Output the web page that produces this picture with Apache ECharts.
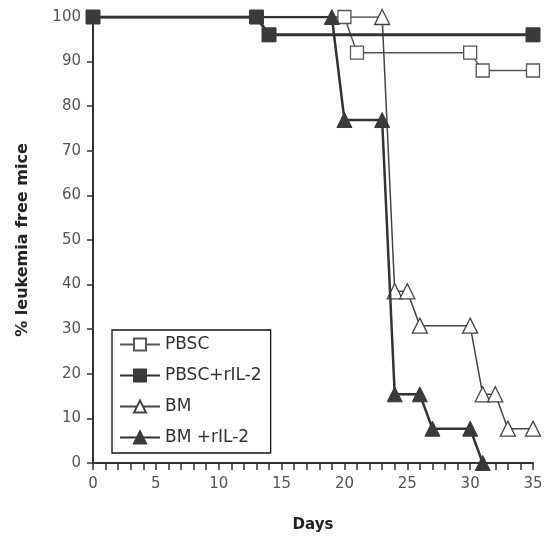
<!DOCTYPE html>
<html>
<head>
<meta charset="utf-8">
<script src="https://cdn.jsdelivr.net/npm/echarts@6/dist/echarts.min.js"></script>
<style>
  html, body { margin: 0; padding: 0; background: #fff; }
  #chart { width: 551px; height: 540px; }
</style>
</head>
<body>
<div id="chart"></div>
<script>
  // survival curves, [day, %]
  var pbsc = [[0, 100], [20, 100], [21, 92], [30, 92], [31, 88], [35, 88]];
  var pbscIl2 = [[0, 100], [13, 100], [14, 96], [35, 96]];
  var bm = [[0, 100], [23, 100], [24, 38.5], [25, 38.5], [26, 30.8], [30, 30.8], [31, 15.4], [32, 15.4], [33, 7.7], [35, 7.7]];
  var bmIl2 = [[0, 100], [19, 100], [20, 76.9], [23, 76.9], [24, 15.4], [26, 15.4], [27, 7.7], [30, 7.7], [31, 0]];
  var names = ['PBSC', 'PBSC+rIL-2', 'BM', 'BM +rIL-2'];

  // hide marker on day 0 for all but the filled square series (it sits on top)
  function pts(arr, keepFirst){
    return arr.map(function(p, i){
      if(i == 0 && !keepFirst) return {value: p, symbol: 'none'};
      return p;
    });
  }

  var dark = '#333';
  var fnt = '"DejaVu Sans", sans-serif';

  var option = {
    animation: false,
    grid: {left: 93, right: 18, top: 17, bottom: 77},
    legend: {
      orient: 'vertical',
      left: 112, top: 330,
      padding: [6, 9, 7, 7],
      itemGap: 14,
      itemWidth: 40, itemHeight: 15,
      borderColor: '#111', borderWidth: 1.3,
      textStyle: {fontFamily: fnt, fontSize: 17, color: '#333'},
      data: names
    },
    xAxis: {
      type: 'value', min: 0, max: 35, interval: 1,
      name: 'Days', nameLocation: 'middle', nameGap: 55,
      nameTextStyle: {fontFamily: fnt, fontSize: 15, fontWeight: 'bold', color: '#222'},
      axisLine: {lineStyle: {color: dark, width: 2}},
      axisTick: {length: 7, lineStyle: {color: dark, width: 1.5}},
      axisLabel: {
        fontFamily: fnt, fontSize: 15, color: '#555', margin: 14,
        formatter: function(v){ return v % 5 == 0 ? v : ''; }
      },
      splitLine: {show: false}
    },
    yAxis: {
      type: 'value', min: 0, max: 100, interval: 10,
      name: '% leukemia free mice', nameLocation: 'middle', nameGap: 62,
      nameTextStyle: {fontFamily: fnt, fontSize: 16, fontWeight: 'bold', color: '#222'},
      axisLine: {show: true, lineStyle: {color: dark, width: 2}},
      axisTick: {show: true, length: 6, lineStyle: {color: dark, width: 1.5}},
      axisLabel: {fontFamily: fnt, fontSize: 15, color: '#555', margin: 12},
      splitLine: {show: false}
    },
    series: [
      {
        name: names[0], type: 'line', data: pts(pbsc),
        symbol: 'rect', symbolSize: 13, z: 3,
        lineStyle: {color: '#555', width: 1.5},
        itemStyle: {color: '#fff', borderColor: '#555', borderWidth: 1.3}
      },
      {
        name: names[2], type: 'line', data: pts(bm),
        symbol: 'triangle', symbolSize: 15, z: 3,
        lineStyle: {color: '#444', width: 1.5},
        itemStyle: {color: '#fff', borderColor: '#444', borderWidth: 1.3}
      },
      {
        name: names[3], type: 'line', data: pts(bmIl2),
        symbol: 'triangle', symbolSize: 15, z: 4,
        lineStyle: {color: dark, width: 2.5},
        itemStyle: {color: '#3a3a3a', borderColor: '#3a3a3a', borderWidth: 1}
      },
      {
        name: names[1], type: 'line', data: pts(pbscIl2, true),
        symbol: 'rect', symbolSize: 14, z: 5,
        lineStyle: {color: dark, width: 3},
        itemStyle: {color: '#3a3a3a', borderColor: '#3a3a3a', borderWidth: 1}
      }
    ]
  };

  var myChart = echarts.init(document.getElementById('chart'));
  myChart.setOption(option);
</script>
</body>
</html>
